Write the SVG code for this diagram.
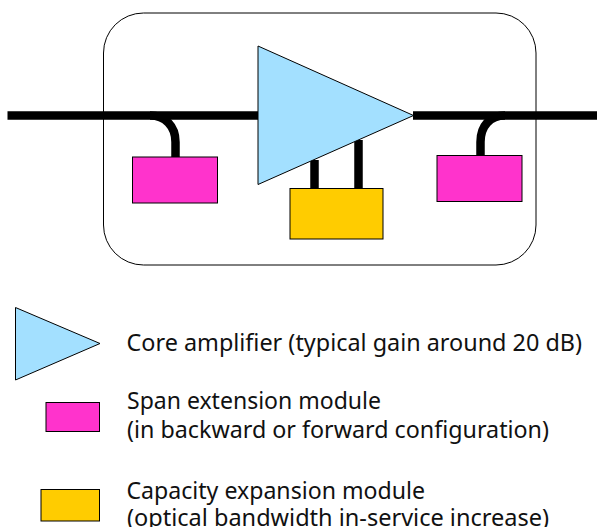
<svg xmlns="http://www.w3.org/2000/svg" width="597" height="527" viewBox="0 0 597 527">
<style>
.s{stroke:#000;stroke-width:1}
.amp{fill:#a3e0ff}
.span{fill:#ff33cc}
.cap{fill:#ffcc00}
.fiber{fill:none;stroke:#000;stroke-width:8.5}
text{font-family:"Noto Sans","Open Sans","DejaVu Sans",sans-serif;font-size:23.5px;fill:#111}
</style>
<rect width="597" height="527" fill="#fff"/>
<g id="enclosure"><rect x="103.5" y="13" width="432.5" height="252" rx="40" ry="40" fill="none" class="s"/></g>
<g id="connectors">
<path class="fiber" d="M7.5 115.5H258M413 115.5H597"/>
<path class="fiber" d="M150 115.5C165 115.5 175.5 126 175.5 142V157"/>
<path class="fiber" d="M505 115.5C490 115.5 480.5 126 480.5 142V156"/>
<path class="fiber" d="M314.5 160V189M358.5 140V189"/>
</g>
<g id="core-amplifier"><polygon class="amp s" points="258,46 258,184.5 413.5,115.5"/></g>
<g id="span-left"><rect class="span s" x="132.5" y="157" width="85" height="46"/></g>
<g id="span-right"><rect class="span s" x="437" y="155.5" width="85" height="46"/></g>
<g id="capacity"><rect class="cap s" x="290" y="188.5" width="93" height="50.5"/></g>
<g id="legend-amplifier"><polygon class="amp s" points="15.5,307.5 15.5,380 100,343.5"/>
<text x="126.5" y="350.5" textLength="455.5" lengthAdjust="spacingAndGlyphs">Core amplifier (typical gain around 20 dB)</text></g>
<g id="legend-span"><rect class="span s" x="46" y="402.5" width="53.5" height="29"/>
<text x="127" y="409" textLength="254" lengthAdjust="spacingAndGlyphs">Span extension module</text>
<text x="127" y="438" textLength="422" lengthAdjust="spacingAndGlyphs">(in backward or forward configuration)</text></g>
<g id="legend-capacity"><rect class="cap s" x="41" y="489.5" width="58.5" height="31.5"/>
<text x="126.5" y="498.5" textLength="298.5" lengthAdjust="spacingAndGlyphs">Capacity expansion module</text>
<text x="127" y="526" textLength="422" lengthAdjust="spacingAndGlyphs">(optical bandwidth in-service increase)</text></g>
</svg>
